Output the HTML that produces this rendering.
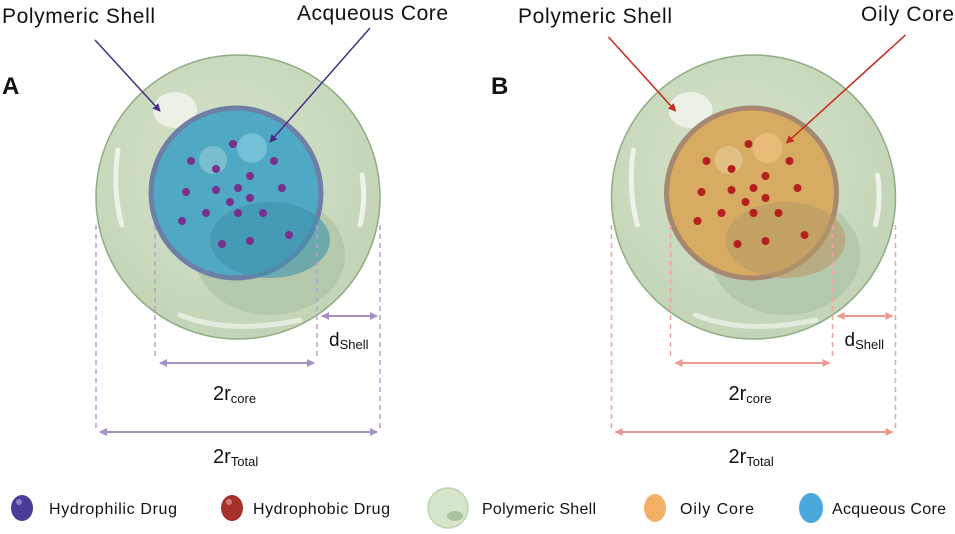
<!DOCTYPE html>
<html><head><meta charset="utf-8"><style>
html,body{margin:0;padding:0;background:#fff}
svg{display:block}
text{font-family:"Liberation Sans",sans-serif;fill:#111}
</style></head><body>
<svg width="955" height="534" viewBox="0 0 955 534" xmlns="http://www.w3.org/2000/svg">
<defs>
<radialGradient id="shell" cx="45%" cy="40%" r="60%"><stop offset="0" stop-color="#d6e3cb"/><stop offset="1" stop-color="#c3d5b6"/></radialGradient>
<marker id="ap" markerWidth="8" markerHeight="8" refX="7" refY="4" orient="auto" markerUnits="userSpaceOnUse"><path d="M0,0 L8,4 L0,8 z" fill="#4a2d86"/></marker>
<marker id="ar" markerWidth="8" markerHeight="8" refX="7" refY="4" orient="auto" markerUnits="userSpaceOnUse"><path d="M0,0 L8,4 L0,8 z" fill="#c8281e"/></marker>
<marker id="mp" markerWidth="8" markerHeight="8" refX="7" refY="4" orient="auto-start-reverse" markerUnits="userSpaceOnUse"><path d="M0,0 L8,4 L0,8 z" fill="#a591c2"/></marker>
<marker id="mr" markerWidth="8" markerHeight="8" refX="7" refY="4" orient="auto-start-reverse" markerUnits="userSpaceOnUse"><path d="M0,0 L8,4 L0,8 z" fill="#ec9a90"/></marker>
</defs>

<!-- Panel A -->
<text x="2" y="23" font-size="21" textLength="153">Polymeric Shell</text>
<text x="297" y="20" font-size="21" textLength="151">Acqueous Core</text>
<text x="2" y="94" font-size="24" font-weight="bold">A</text>
<circle cx="238" cy="197" r="142" fill="url(#shell)" stroke="#8fac84" stroke-width="1.5"/>
<ellipse cx="270" cy="255" rx="75" ry="60" fill="#a9bfa1" opacity="0.6"/>
<ellipse cx="175" cy="110" rx="22" ry="18" fill="#eef3ea" opacity="0.9"/>
<path d="M118,150 Q112,190 122,225" stroke="#eef3ea" stroke-width="5" fill="none" stroke-linecap="round"/>
<path d="M362,175 Q366,200 360,225" stroke="#eef3ea" stroke-width="5" fill="none" stroke-linecap="round"/>
<path d="M180,315 Q230,335 300,320" stroke="#e4ecdf" stroke-width="5" fill="none" stroke-linecap="round"/>
<circle cx="236" cy="193" r="85" fill="#4fa9c4" stroke="#6e7fa6" stroke-width="5"/>
<ellipse cx="270" cy="240" rx="60" ry="38" fill="#3f93ae" opacity="0.6"/>
<circle cx="213" cy="160" r="14" fill="#8cc6d4" opacity="0.7"/>
<circle cx="252" cy="148" r="15" fill="#7cc5dc" opacity="0.8"/>
<g fill="#7a2f8e">
<circle cx="233" cy="144" r="4"/><circle cx="191" cy="161" r="4"/><circle cx="216" cy="169" r="4"/><circle cx="274" cy="161" r="4"/><circle cx="250" cy="176" r="4"/><circle cx="186" cy="192" r="4"/><circle cx="216" cy="190" r="4"/><circle cx="238" cy="188" r="4"/><circle cx="282" cy="188" r="4"/><circle cx="230" cy="202" r="4"/><circle cx="250" cy="198" r="4"/><circle cx="206" cy="213" r="4"/><circle cx="238" cy="213" r="4"/><circle cx="263" cy="213" r="4"/><circle cx="182" cy="221" r="4"/><circle cx="222" cy="244" r="4"/><circle cx="250" cy="241" r="4"/><circle cx="289" cy="235" r="4"/>
</g>
<line x1="95" y1="40" x2="160" y2="111" stroke="#4a2d86" stroke-width="1.5" marker-end="url(#ap)"/>
<line x1="370" y1="28" x2="270" y2="142" stroke="#4a2d86" stroke-width="1.5" marker-end="url(#ap)"/>
<g stroke="#b3a3cf" stroke-width="1.5" stroke-dasharray="5,4" fill="none">
<line x1="96" y1="225" x2="96" y2="430"/><line x1="155" y1="225" x2="155" y2="358"/><line x1="317" y1="225" x2="317" y2="358"/><line x1="380" y1="225" x2="380" y2="430"/>
</g>
<g stroke="#a591c2" stroke-width="2">
<line x1="322" y1="316" x2="377" y2="316" marker-start="url(#mp)" marker-end="url(#mp)"/>
<line x1="160" y1="363" x2="314" y2="363" marker-start="url(#mp)" marker-end="url(#mp)"/>
<line x1="100" y1="432" x2="377" y2="432" marker-start="url(#mp)" marker-end="url(#mp)"/>
</g>
<text x="329" y="346" font-size="19">d<tspan font-size="13" dy="3">Shell</tspan></text>
<text x="213" y="400" font-size="20">2r<tspan font-size="13" dy="3">core</tspan></text>
<text x="213" y="463" font-size="20">2r<tspan font-size="13" dy="3">Total</tspan></text>

<!-- Panel B -->
<text x="518" y="23" font-size="21" textLength="154">Polymeric Shell</text>
<text x="861" y="21" font-size="21" textLength="93">Oily Core</text>
<text x="491" y="94" font-size="24" font-weight="bold">B</text>
<g transform="translate(515.5,0)">
<circle cx="238" cy="197" r="142" fill="url(#shell)" stroke="#8fac84" stroke-width="1.5"/>
<ellipse cx="270" cy="255" rx="75" ry="60" fill="#a9bfa1" opacity="0.6"/>
<ellipse cx="175" cy="110" rx="22" ry="18" fill="#eef3ea" opacity="0.9"/>
<path d="M118,150 Q112,190 122,225" stroke="#eef3ea" stroke-width="5" fill="none" stroke-linecap="round"/>
<path d="M362,175 Q366,200 360,225" stroke="#eef3ea" stroke-width="5" fill="none" stroke-linecap="round"/>
<path d="M180,315 Q230,335 300,320" stroke="#e4ecdf" stroke-width="5" fill="none" stroke-linecap="round"/>
<circle cx="236" cy="193" r="85" fill="#d7ac62" stroke="#a68770" stroke-width="5"/>
<ellipse cx="270" cy="240" rx="60" ry="38" fill="#b89a66" opacity="0.6"/>
<circle cx="213" cy="160" r="14" fill="#e6c894" opacity="0.7"/>
<circle cx="252" cy="148" r="15" fill="#ecbf7f" opacity="0.8"/>
<g fill="#b3201e">
<circle cx="233" cy="144" r="4"/><circle cx="191" cy="161" r="4"/><circle cx="216" cy="169" r="4"/><circle cx="274" cy="161" r="4"/><circle cx="250" cy="176" r="4"/><circle cx="186" cy="192" r="4"/><circle cx="216" cy="190" r="4"/><circle cx="238" cy="188" r="4"/><circle cx="282" cy="188" r="4"/><circle cx="230" cy="202" r="4"/><circle cx="250" cy="198" r="4"/><circle cx="206" cy="213" r="4"/><circle cx="238" cy="213" r="4"/><circle cx="263" cy="213" r="4"/><circle cx="182" cy="221" r="4"/><circle cx="222" cy="244" r="4"/><circle cx="250" cy="241" r="4"/><circle cx="289" cy="235" r="4"/>
</g>
<line x1="93" y1="37" x2="160" y2="111" stroke="#c8281e" stroke-width="1.5" marker-end="url(#ar)"/>
<line x1="390" y1="35" x2="271" y2="143" stroke="#c8281e" stroke-width="1.5" marker-end="url(#ar)"/>
<g stroke="#f0a59c" stroke-width="1.5" stroke-dasharray="5,4" fill="none">
<line x1="96" y1="225" x2="96" y2="430"/><line x1="155" y1="225" x2="155" y2="358"/><line x1="317" y1="225" x2="317" y2="358"/><line x1="380" y1="225" x2="380" y2="430"/>
</g>
<g stroke="#ec9a90" stroke-width="2">
<line x1="322" y1="316" x2="377" y2="316" marker-start="url(#mr)" marker-end="url(#mr)"/>
<line x1="160" y1="363" x2="314" y2="363" marker-start="url(#mr)" marker-end="url(#mr)"/>
<line x1="100" y1="432" x2="377" y2="432" marker-start="url(#mr)" marker-end="url(#mr)"/>
</g>
<text x="329" y="346" font-size="19">d<tspan font-size="13" dy="3">Shell</tspan></text>
<text x="213" y="400" font-size="20">2r<tspan font-size="13" dy="3">core</tspan></text>
<text x="213" y="463" font-size="20">2r<tspan font-size="13" dy="3">Total</tspan></text>
</g>

<!-- Legend -->
<ellipse cx="22" cy="508" rx="11" ry="13" fill="#4b3a96"/><ellipse cx="19" cy="502" rx="3" ry="3" fill="#8c80c4"/>
<text x="49" y="514" font-size="16" textLength="128">Hydrophilic Drug</text>
<ellipse cx="232" cy="508" rx="11" ry="13" fill="#a8302c"/><ellipse cx="229" cy="502" rx="3" ry="3" fill="#d07a74"/>
<text x="253" y="514" font-size="16" textLength="137">Hydrophobic Drug</text>
<circle cx="448" cy="508" r="20" fill="#d6e6cc" stroke="#bcd3ae" stroke-width="1.5"/><ellipse cx="455" cy="516" rx="8" ry="5" fill="#a9c49c"/>
<text x="482" y="514" font-size="16" textLength="114">Polymeric Shell</text>
<ellipse cx="655" cy="508" rx="11" ry="14" fill="#f2b066"/>
<text x="680" y="514" font-size="16" textLength="74">Oily Core</text>
<ellipse cx="811" cy="508" rx="12" ry="15" fill="#4aa8dc"/>
<text x="832" y="514" font-size="16" textLength="114">Acqueous Core</text>
</svg>
</body></html>
